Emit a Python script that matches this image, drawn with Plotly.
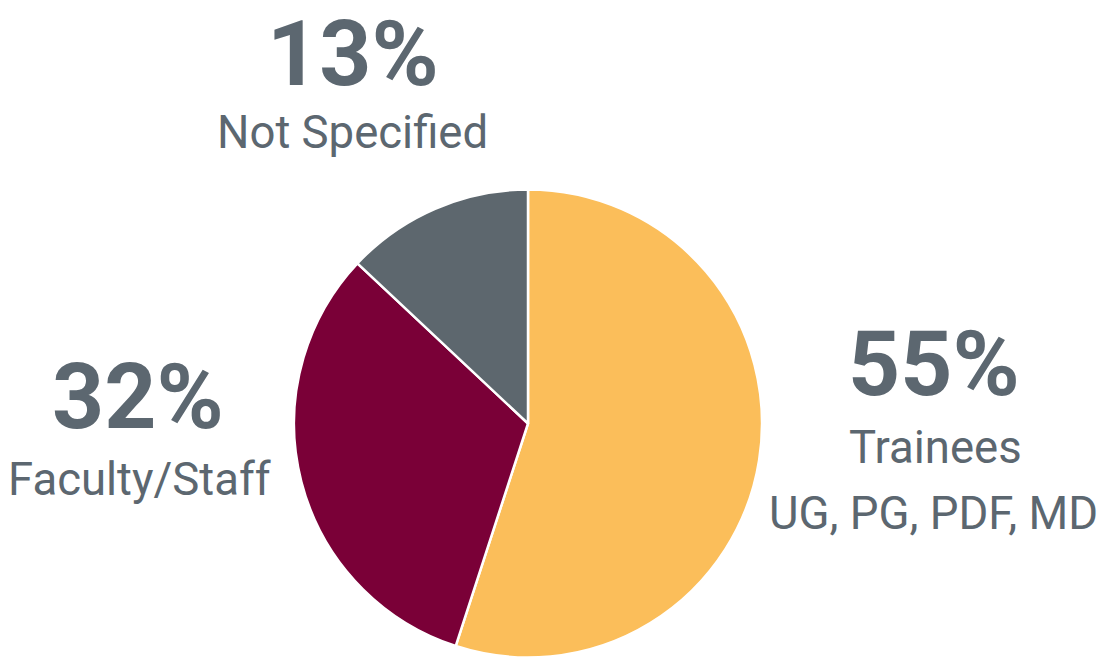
import plotly.graph_objects as go

W, H = 1100, 659

categories = ["Trainees", "Faculty/Staff", "Not Specified"]
values = [55, 32, 13]
pct_labels = ["55%", "32%", "13%"]
sub_labels = [["Trainees", "UG, PG, PDF, MD"], ["Faculty/Staff"], ["Not Specified"]]
colors = ["#FBBE5A", "#7A0037", "#5D676E"]

TEXT = "#5C6770"

cx, cy, r = 528, 423.5, 234

fig = go.Figure(go.Pie(
    labels=categories,
    values=values,
    sort=False,
    direction="clockwise",
    rotation=0,
    textinfo="none",
    hoverinfo="label+percent",
    marker=dict(colors=colors, line=dict(color="white", width=2.5)),
    domain=dict(x=[(cx - r) / W, (cx + r) / W], y=[1 - (cy + r) / H, 1 - (cy - r) / H]),
    showlegend=False,
))

# label positions (pixel centers) for each category
pct_pos = [(934, 364), (138, 397), (353, 54)]
sub_pos = [[(935, 447), (933, 513)], [(140, 479)], [(352, 132)]]

annotations = []
for i in range(len(categories)):
    px, py = pct_pos[i]
    annotations.append(dict(
        text="<b>%s</b>" % pct_labels[i], x=px / W, y=1 - py / H,
        xref="paper", yref="paper", xanchor="center", yanchor="middle",
        showarrow=False, font=dict(family="Roboto", size=91, color=TEXT)))
    for line, (sx, sy) in zip(sub_labels[i], sub_pos[i]):
        annotations.append(dict(
            text=line, x=sx / W, y=1 - sy / H,
            xref="paper", yref="paper", xanchor="center", yanchor="middle",
            showarrow=False, font=dict(family="Roboto", size=45.5, color=TEXT)))

fig.update_layout(
    width=W, height=H,
    margin=dict(l=0, r=0, t=0, b=0),
    paper_bgcolor="white", plot_bgcolor="white",
    annotations=annotations,
)

fig.write_html(
    "out.html",
    config={"displayModeBar": False},
    post_script="document.body.style.margin='0';document.body.style.overflow='hidden';",
)
